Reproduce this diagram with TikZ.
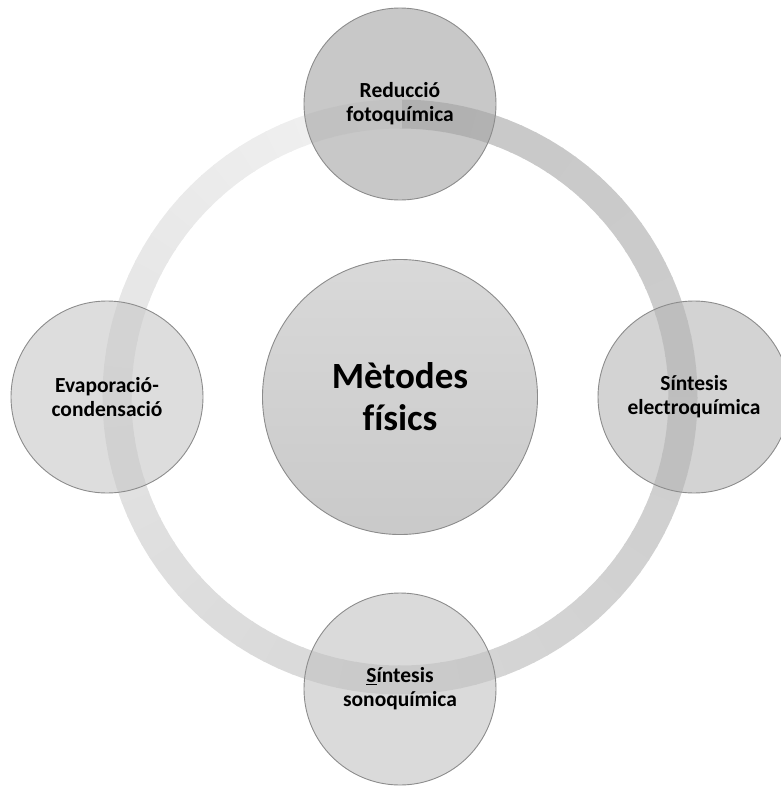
\documentclass[tikz,border=0pt]{standalone}
\usepackage{fontspec}
\setmainfont[Ligatures=NoCommon]{Carlito}
\begin{document}
\begin{tikzpicture}[x=1pt,y=1pt,
  sat/.style={circle, minimum size=192pt, inner sep=0pt, draw=black!45, line width=0.9pt,
    fill opacity=0.6, text opacity=1, align=center,
    font=\bfseries\fontsize{21.5}{24}\selectfont},
  hub/.style={circle, minimum size=275pt, inner sep=0pt, draw=black!45, line width=0.9pt,
    top color=white!85!black, bottom color=white!79!black, align=center,
    font=\bfseries\fontsize{37}{42}\selectfont}]
\useasboundingbox (0,0) rectangle (781,-787);

% ring: clockwise from twelve o'clock, dark to light
\coordinate (ringc) at (400,-397);
\foreach \i in {0,...,119} {
  \pgfmathsetmacro\t{\i*3}
  \pgfmathsetmacro\lv{100*(0.785+0.165*((\t+1.5)/360)^1.5)}
  \draw[line width=29pt, color=white!\lv!black]
    (ringc) ++(90-\t:283) arc[start angle=90-\t, end angle=90-\t-3.4, radius=283];
}

% central circle
\node[hub] (hub) at (ringc) {Mètodes\\físics};

% satellites
\node[sat, fill=white!64!black] (photo)   at (400,-104) {Reducció\\fotoquímica};
\node[sat, fill=white!71!black] (electro) at (694,-397) {Síntesis\\electroquímica};
\node[sat, fill=white!76!black] (sono)    at (400,-689) {\underline{S}íntesis\\sonoquímica};
\node[sat, fill=white!78!black] (evap)    at (107,-397) {Evaporació-\\condensació};
\end{tikzpicture}
\end{document}
